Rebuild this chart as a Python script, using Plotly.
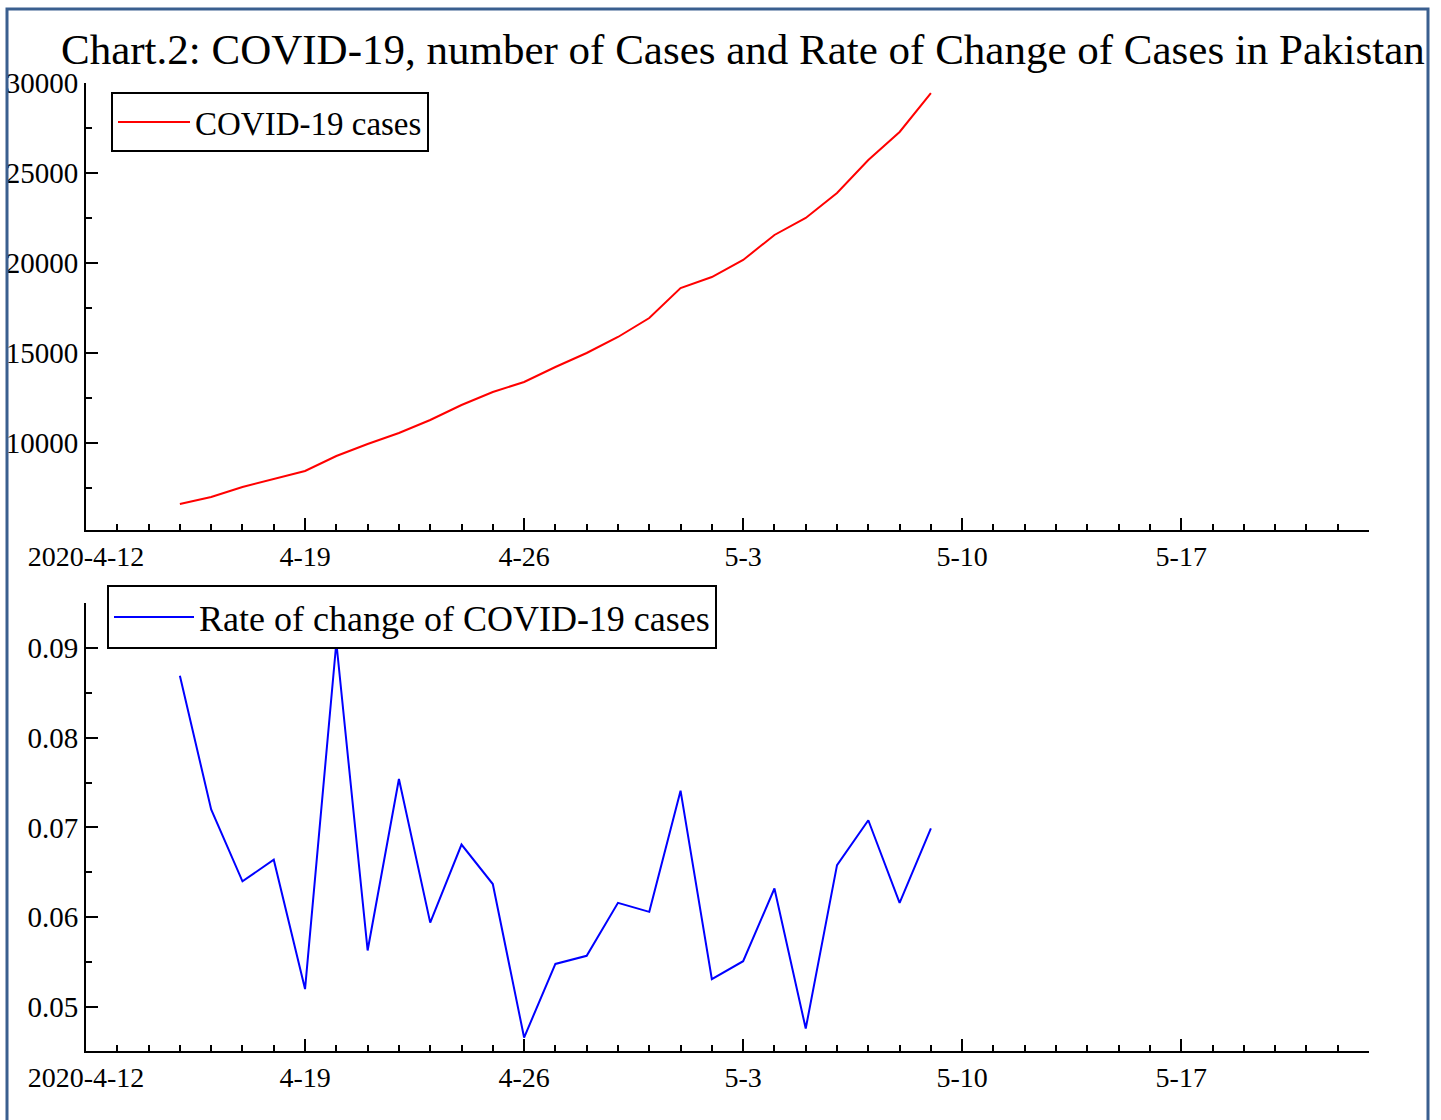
import plotly.graph_objects as go
import pandas as pd

# ---- data ----
dates = pd.date_range("2020-04-15", "2020-05-09", freq="D")
covid_cases = [6611, 7000, 7556, 8000, 8444, 9278, 9944, 10556, 11278, 12111,
               12833, 13389, 14222, 15000, 15889, 16944, 18611, 19222, 20167,
               21556, 22500, 23889, 25722, 27278, 29444]
rate_of_change = [0.0869, 0.0720, 0.0640, 0.0664, 0.0520, 0.0906, 0.0563,
                  0.0754, 0.0594, 0.0681, 0.0637, 0.0466, 0.0548, 0.0557,
                  0.0616, 0.0606, 0.0741, 0.0531, 0.0551, 0.0632, 0.0476,
                  0.0658, 0.0708, 0.0616, 0.0699]
x_tick_dates = ["2020-04-12", "2020-04-19", "2020-04-26", "2020-05-03",
                "2020-05-10", "2020-05-17"]
x_tick_labels = ["2020-4-12", "4-19", "4-26", "5-3", "5-10", "5-17"]
x_range = ["2020-04-12", "2020-05-23"]
title_text = "Chart.2: COVID-19, number of Cases and Rate of Change of Cases in Pakistan"

W, H = 1441, 1120
SERIF = "Times New Roman, Liberation Serif, serif"

def px_x(p):
    return p / W

def px_y(p):
    return 1 - p / H

fig = go.Figure()
fig.add_trace(go.Scatter(x=dates, y=covid_cases, mode="lines", name="COVID-19 cases",
                         line=dict(color="#ff0000", width=2), xaxis="x", yaxis="y",
                         legend="legend"))
fig.add_trace(go.Scatter(x=dates, y=rate_of_change, mode="lines",
                         name="Rate of change of COVID-19 cases",
                         line=dict(color="#0000ff", width=2), xaxis="x2", yaxis="y2",
                         legend="legend2"))

common_x = dict(
    range=x_range, tickmode="array", tickvals=x_tick_dates, ticktext=x_tick_labels,
    showline=True, linecolor="black", linewidth=2, ticks="inside", ticklen=12,
    tickwidth=2, tickcolor="black", showgrid=False, zeroline=False, automargin=False,
    tickfont=dict(family=SERIF, size=28, color="black"),
    minor=dict(tickmode="linear", tick0="2020-04-12", dtick=86400000, ticks="inside",
               ticklen=6, tickwidth=2, tickcolor="black", showgrid=False),
)
common_y = dict(
    showline=True, linecolor="black", linewidth=2, ticks="inside", ticklen=12,
    tickwidth=2, tickcolor="black", showgrid=False, zeroline=False, automargin=False,
    tickfont=dict(family=SERIF, size=29, color="black"),
)

xd = [px_x(86), px_x(1369)]
fig.update_layout(
    template="none",
    width=W, height=H, margin=dict(l=0, r=0, t=0, b=0, autoexpand=False),
    paper_bgcolor="white", plot_bgcolor="white",
    xaxis=dict(domain=xd, anchor="y", **common_x),
    yaxis=dict(domain=[px_y(530), px_y(83)], anchor="x", range=[5167, 30000],
               tickmode="linear", tick0=0, dtick=5000, tickformat="d",
               minor=dict(tickmode="linear", tick0=0, dtick=2500, ticks="inside",
                          ticklen=6, tickwidth=2, tickcolor="black", showgrid=False),
               **common_y),
    xaxis2=dict(domain=xd, anchor="y2", **common_x),
    yaxis2=dict(domain=[px_y(1051), px_y(603)], anchor="x2", range=[0.0451, 0.095],
                tickmode="linear", tick0=0, dtick=0.01, tickformat=".2f",
                minor=dict(tickmode="linear", tick0=0, dtick=0.005, ticks="inside",
                           ticklen=6, tickwidth=2, tickcolor="black", showgrid=False),
                **common_y),
    legend=dict(x=px_x(111), y=px_y(92), xanchor="left", yanchor="top",
                bordercolor="black", borderwidth=2, bgcolor="white",
                font=dict(family=SERIF, size=33, color="black"), itemwidth=72),
    legend2=dict(x=px_x(107), y=px_y(585), xanchor="left", yanchor="top",
                 bordercolor="black", borderwidth=2, bgcolor="white",
                 font=dict(family=SERIF, size=36, color="black"), itemwidth=80),
    showlegend=True,
    annotations=[dict(text=title_text, x=px_x(743), y=px_y(50), xref="paper",
                      yref="paper", showarrow=False, xanchor="center", yanchor="middle",
                      font=dict(family=SERIF, size=43, color="black"))],
    shapes=[dict(type="rect", xref="paper", yref="paper", x0=px_x(7), x1=px_x(1428),
                 y0=px_y(1130), y1=px_y(9), line=dict(color="#3a5f8f", width=3),
                 fillcolor="rgba(0,0,0,0)")],
)

fig.write_html("out.html", config={"displayModeBar": False},
               post_script="document.body.style.margin='0';document.body.style.overflow='hidden';")
